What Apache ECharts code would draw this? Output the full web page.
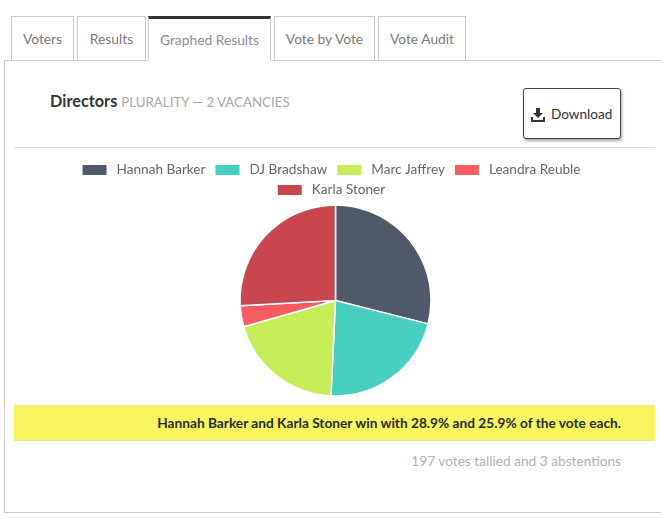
<!DOCTYPE html>
<html>
<head>
<meta charset="utf-8">
<script src="https://cdn.jsdelivr.net/npm/echarts@6/dist/echarts.min.js"></script>
<style>
  html, body { margin:0; padding:0; width:661px; height:519px; overflow:hidden; background:#fff; font-family: Lato, "Open Sans", sans-serif; }
  .tab { position:absolute; top:16px; height:44px; box-sizing:border-box; border:1px solid #ccc; border-bottom:none; background:#fff; color:#7a7a7a; font-size:13.8px; line-height:44px; text-align:center; }
  .tab.active { border-top:3px solid #333; line-height:42px; color:#8a8d96; height:45px; z-index:2; }
  #panel { position:absolute; left:4px; top:60px; width:670px; height:453px; box-sizing:border-box; border:1px solid #ccc; }
  #title { position:absolute; left:50px; top:91px; font-size:16.3px; color:#333; font-weight:bold; }
  #title span { font-weight:normal; font-size:13.3px; color:#a8a8a8; }
  #btn { position:absolute; left:523px; top:88px; width:98px; height:51px; box-sizing:border-box; border:1px solid #444; border-radius:3px; box-shadow:1px 2px 3px rgba(0,0,0,0.35); font-size:13.6px; color:#333; line-height:50px; padding-left:27px; background:#fff; }
  #btn svg { position:absolute; left:7px; top:19px; }
  #hr { position:absolute; left:14px; top:147px; width:641px; height:1px; background:#ddd; }
  #band { position:absolute; left:14px; top:405px; width:641px; height:36px; background:#faf55e; border-top:1px solid #e8e4a0; border-bottom:1px solid #e8e4a0; box-sizing:border-box; }
  #band div { position:absolute; right:34px; top:0; line-height:34px; font-size:13.7px; font-weight:bold; color:#2a2a2a; }
  #foot { position:absolute; right:40px; top:452px; font-size:13.7px; color:#b0b0b0; }
  #chart { position:absolute; left:0; top:0; width:661px; height:519px; }
</style>
</head>
<body>
<div id="panel"></div>
<div class="tab" style="left:11px;width:63px;">Voters</div>
<div class="tab" style="left:77px;width:69px;">Results</div>
<div class="tab active" style="left:148px;width:123px;">Graphed Results</div>
<div class="tab" style="left:274px;width:101px;">Vote by Vote</div>
<div class="tab" style="left:378px;width:88px;">Vote Audit</div>
<div id="title">Directors <span>PLURALITY — 2 VACANCIES</span></div>
<div id="btn"><svg width="14" height="14" viewBox="0 0 14 14"><path d="M5 0h4v5h3l-5 5-5-5h3z" fill="#333"/><path d="M0 9h2v3h10v-3h2v5H0z" fill="#333"/></svg>Download</div>
<div id="hr"></div>
<div id="band"><div>Hannah Barker and Karla Stoner win with 28.9% and 25.9% of the vote each.</div></div>
<div id="foot">197 votes tallied and 3 abstentions</div>
<div id="chart"></div>
<script>
const candidates = ["Hannah Barker", "DJ Bradshaw", "Marc Jaffrey", "Leandra Reuble", "Karla Stoner"];
const votes = [57, 43, 39, 7, 51];
const colors = ["#4e5a69", "#46cec0", "#c6ec57", "#f85c61", "#c9464f"];

const chart = echarts.init(document.getElementById('chart'), null, { renderer: 'canvas' });
const legendStyle = { fontSize: 13.6, color: '#666', fontFamily: 'Lato', padding: [0, 0, 0, 4] };
chart.setOption({
  animation: false,
  color: colors,
  legend: [
    { data: candidates.slice(0, 4), left: 'center', top: 158, itemWidth: 26, itemHeight: 12, itemGap: 8, icon: 'rect', textStyle: legendStyle, selectedMode: false },
    { data: candidates.slice(4), left: 'center', top: 178, itemWidth: 26, itemHeight: 12, itemGap: 8, icon: 'rect', textStyle: legendStyle, selectedMode: false }
  ],
  series: [{
    type: 'pie',
    center: [335.5, 300.5],
    radius: [0, 95.5],
    startAngle: 90,
    clockwise: true,
    label: { show: false },
    labelLine: { show: false },
    itemStyle: { borderColor: '#fff', borderWidth: 1.5 },
    emphasis: { disabled: true },
    data: candidates.map((n, i) => ({ name: n, value: votes[i] }))
  }]
});
</script>
</body>
</html>
